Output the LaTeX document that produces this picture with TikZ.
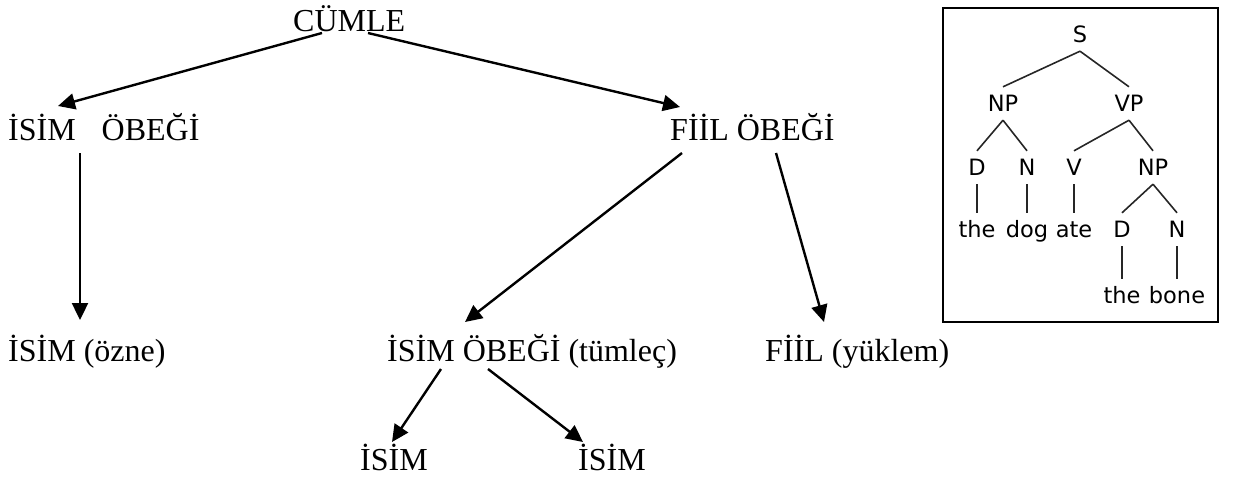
\documentclass[tikz,border=0pt]{standalone}
\usepackage{fontspec}
\setmainfont{Liberation Serif}
\newfontfamily\treefont{DejaVu Sans}
\usetikzlibrary{arrows.meta,calc}

\begin{document}
\begin{tikzpicture}[x=1pt,y=-1pt,
  label/.style={inner sep=0pt,anchor=base west,font=\fontsize{32}{38}\selectfont},
  link/.style={line width=2.4pt,-{Triangle[length=17pt,width=16pt]}},
  leaf/.style={inner xsep=0pt,inner ysep=9pt,anchor=base,text height=15pt,text depth=0pt,
               font=\treefont\fontsize{22.5}{25}\selectfont},
  branch/.style={line width=1.6pt,black!85}]
\useasboundingbox (0,0) rectangle (1234,480);

% main phrase-structure diagram
\node[label] (cumle)  at (293,31)  {CÜMLE};
\node[label] (np)     at (8,140)   {İSİM\hspace{26pt}ÖBEĞİ};
\node[label] (vp)     at (670,140) {FİİL ÖBEĞİ};
\node[label] (ozne)   at (8,361)   {İSİM (özne)};
\node[label] (tumlec) at (387,361) {İSİM ÖBEĞİ (tümleç)};
\node[label] (yuklem) at (765,361) {FİİL (yüklem)};
\node[label] (isima)  at (360,470) {İSİM};
\node[label] (isimb)  at (578,470) {İSİM};

\draw[link] ($(cumle.base west)+(29,2)$)   -- ($(np.base west)+(50,-34)$);
\draw[link] ($(cumle.base west)+(75,2)$)   -- ($(vp.base west)+(10,-33)$);
\draw[link] ($(np.base west)+(72,13)$)     -- ($(ozne.base west)+(72,-41)$);
\draw[link] ($(vp.base west)+(12,13)$)     -- ($(tumlec.base west)+(78,-39)$);
\draw[link] ($(vp.base west)+(106,13)$)    -- ($(yuklem.base west)+(59,-39)$);
\draw[link] ($(tumlec.base west)+(54,8)$)  -- ($(isima.base west)+(32,-28)$);
\draw[link] ($(tumlec.base west)+(101,8)$) -- ($(isimb.base west)+(5,-28)$);

% small syntax tree in a frame
\draw[line width=1.6pt] (943,8) rectangle (1218,322);
\node[leaf] (s)    at (1080,42)  {S};
\node[leaf] (tnp)  at (1003,111) {NP};
\node[leaf] (tvp)  at (1129,111) {VP};
\node[leaf] (td)   at (977,175)  {D};
\node[leaf] (tn)   at (1027,175) {N};
\node[leaf] (tv)   at (1074,175) {V};
\node[leaf] (tnp2) at (1153,175) {NP};
\node[leaf] (the)  at (977,237)  {the};
\node[leaf] (dog)  at (1027,237) {dog};
\node[leaf] (ate)  at (1074,237) {ate};
\node[leaf] (td2)  at (1122,237) {D};
\node[leaf] (tn2)  at (1177,237) {N};
\node[leaf] (the2) at (1122,303) {the};
\node[leaf] (bone) at (1177,303) {bone};

\draw[branch] (s.south) -- (tnp.north);
\draw[branch] (s.south) -- (tvp.north);
\draw[branch] (tnp.south) -- (td.north);
\draw[branch] (tnp.south) -- (tn.north);
\draw[branch] (tvp.south) -- (tv.north);
\draw[branch] (tvp.south) -- (tnp2.north);
\draw[branch] (td.south) -- (the.north);
\draw[branch] (tn.south) -- (dog.north);
\draw[branch] (tv.south) -- (ate.north);
\draw[branch] (tnp2.south) -- (td2.north);
\draw[branch] (tnp2.south) -- (tn2.north);
\draw[branch] (td2.south) -- (the2.north);
\draw[branch] (tn2.south) -- (bone.north);
\end{tikzpicture}
\end{document}
